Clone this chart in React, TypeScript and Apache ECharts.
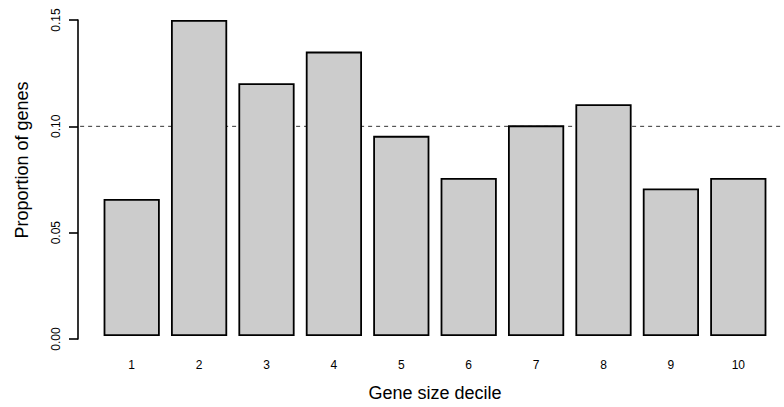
import React, { useEffect, useRef } from "react";
import * as echarts from "echarts";

const deciles = ["1", "2", "3", "4", "5", "6", "7", "8", "9", "10"];
const proportions = [0.065, 0.15, 0.12, 0.135, 0.095, 0.075, 0.1, 0.11, 0.07, 0.075];
const referenceLevel = [0.1];
const yTicks = [0, 0.05, 0.1, 0.15];

const FONT = "Liberation Sans, Arial, Helvetica, sans-serif";

export default function App() {
  const ref = useRef<HTMLDivElement>(null);
  useEffect(() => {
    if (!ref.current) return;
    const chart = echarts.init(ref.current, null, { renderer: "svg" });
    const ref0 = referenceLevel[0];
    chart.setOption({
      animation: false,
      backgroundColor: "#ffffff",
      textStyle: { fontFamily: FONT },
      grid: [
        { left: 78, right: 0, top: 20, bottom: 68 },
        { left: 98, right: 12, top: 20, bottom: 68 },
      ],
      xAxis: [
        { type: "value", gridIndex: 0, min: 0, max: 1, show: false },
        {
          type: "category",
          gridIndex: 1,
          data: deciles,
          axisLine: { show: false },
          axisTick: { show: false },
          axisLabel: { color: "#000", fontSize: 12, margin: 23, fontFamily: FONT },
          name: "Gene size decile",
          nameLocation: "middle",
          nameGap: 57,
          nameTextStyle: { color: "#000", fontSize: 18, verticalAlign: "middle", fontFamily: FONT },
        },
      ],
      yAxis: [
        {
          type: "value",
          gridIndex: 0,
          min: yTicks[0],
          max: yTicks[yTicks.length - 1],
          interval: yTicks[1] - yTicks[0],
          axisLine: { show: true, lineStyle: { color: "#000", width: 1.6 } },
          axisTick: { show: true, length: 9, lineStyle: { color: "#000", width: 1.6 } },
          splitLine: { show: false },
          axisLabel: {
            color: "#000",
            fontSize: 12,
            rotate: 90,
            margin: 16,
            align: "center",
            verticalAlign: "bottom",
            fontFamily: FONT,
            formatter: (v: number) => v.toFixed(2),
          },
        },
        {
          type: "value",
          gridIndex: 1,
          min: yTicks[0],
          max: yTicks[yTicks.length - 1],
          show: false,
        },
      ],
      graphic: [
        {
          type: "text",
          x: 22,
          y: 160,
          rotation: Math.PI / 2,
          style: {
            text: "Proportion of genes",
            fill: "#000",
            font: `18px ${FONT}`,
            align: "center",
            verticalAlign: "middle",
          },
        },
      ],
      series: [
        {
          type: "line",
          xAxisIndex: 0,
          yAxisIndex: 0,
          data: [
            [0.003, ref0],
            [1, ref0],
          ],
          symbol: "none",
          lineStyle: { color: "#333", width: 1, type: [4, 4] },
          z: 1,
        },
        {
          type: "bar",
          xAxisIndex: 1,
          yAxisIndex: 1,
          data: proportions,
          barCategoryGap: "16.6%",
          itemStyle: { color: "#cccccc", borderColor: "#000", borderWidth: 1.8 },
          z: 3,
        },
      ],
    });
    return () => chart.dispose();
  }, []);
  return (
    <div
      ref={ref}
      style={{ position: "absolute", left: 0, top: 0, width: 784, height: 407 }}
    />
  );
}
